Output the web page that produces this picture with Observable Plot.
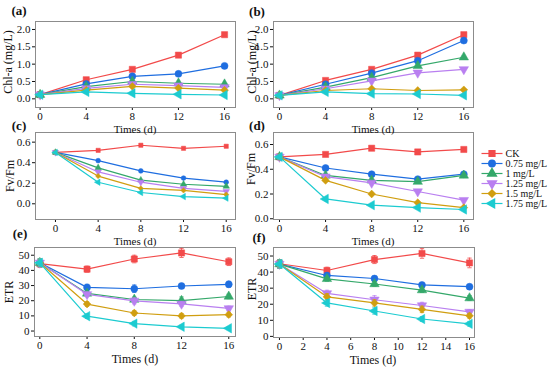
<!DOCTYPE html>
<html><head><meta charset="utf-8">
<script src="https://cdn.jsdelivr.net/npm/d3@7"></script>
<script src="https://cdn.jsdelivr.net/npm/@observablehq/plot@0.6"></script>
<style>
body{margin:0;background:#fff;}
#wrap{position:relative;width:550px;height:369px;font-family:"Liberation Serif","Times New Roman",serif;color:#111;overflow:hidden;background:#fff}
.t{position:absolute;white-space:nowrap;font-size:11px;line-height:1;font-family:"Liberation Serif","Times New Roman",serif}
.p{position:absolute}
svg text{font-family:"Liberation Serif","Times New Roman",serif}
</style></head><body><div id="wrap"></div>
<script>
const days = [0, 4, 8, 12, 16];
const series = ["CK", "0.75 mg/L", "1 mg/L", "1.25 mg/L", "1.5 mg/L", "1.75 mg/L"];
const colors = ["#f24a4a", "#1f6ee0", "#34a86a", "#b97ff0", "#d09e10", "#1ccbd0"];
const symbols = ["square", "circle", "triangle", "triangle", "diamond2", "triangle"];
const rotations = [0, 0, 0, 180, 0, -90];

// (a) Chl-a
const chlA_a = [
  [0.12, 0.55, 0.85, 1.26, 1.85],
  [0.12, 0.43, 0.65, 0.72, 0.95],
  [0.12, 0.35, 0.50, 0.45, 0.42],
  [0.12, 0.30, 0.42, 0.38, 0.33],
  [0.12, 0.25, 0.36, 0.31, 0.25],
  [0.12, 0.20, 0.16, 0.13, 0.11]
];
// (b) Chl-a
const chlA_b = [
  [0.10, 0.53, 0.85, 1.26, 1.85],
  [0.10, 0.42, 0.74, 1.10, 1.68],
  [0.10, 0.34, 0.61, 0.95, 1.20],
  [0.10, 0.29, 0.52, 0.75, 0.85],
  [0.10, 0.24, 0.29, 0.24, 0.26],
  [0.10, 0.20, 0.15, 0.14, 0.10]
];
// (c) Fv/Fm
const fvfm_c = [
  [0.50, 0.52, 0.57, 0.54, 0.56],
  [0.50, 0.42, 0.32, 0.25, 0.21],
  [0.50, 0.35, 0.23, 0.19, 0.17],
  [0.50, 0.31, 0.21, 0.15, 0.12],
  [0.50, 0.27, 0.15, 0.13, 0.09],
  [0.50, 0.21, 0.11, 0.07, 0.055]
];
// (d) Fv/Fm
const fvfm_d = [
  [0.50, 0.52, 0.57, 0.54, 0.56],
  [0.50, 0.41, 0.36, 0.32, 0.36],
  [0.50, 0.35, 0.31, 0.30, 0.35],
  [0.50, 0.34, 0.29, 0.22, 0.15],
  [0.50, 0.31, 0.20, 0.13, 0.09],
  [0.50, 0.16, 0.11, 0.09, 0.075]
];
// (e) ETR
const etr_e = [
  [44.5, 40.8, 47.5, 51.5, 45.7],
  [45, 28.8, 27.9, 29.7, 30.8],
  [45, 24.8, 20.8, 20.0, 22.8],
  [45, 24.2, 19.9, 17.9, 14.9],
  [45, 17.8, 11.9, 10.0, 10.8],
  [45, 9.8, 4.9, 2.8, 1.8]
];
const etrErr_e = [
  [2.5, 2, 2.5, 3, 2.5],
  [2.5, 2, 2.5, 1.5, 2],
  [2.5, 1.5, 1.5, 2.5, 1.5],
  [2.5, 1.5, 2, 1.5, 1.5],
  [2.5, 1.5, 1.5, 1.5, 1.5],
  [2.5, 1.5, 1.5, 1, 1]
];
// (f) ETR
const etr_f = [
  [45.2, 41.0, 47.8, 51.6, 45.7],
  [45, 37.9, 36.0, 32.0, 30.9],
  [45, 35.8, 32.6, 28.8, 23.8],
  [45, 26.7, 22.8, 19.2, 15.2],
  [45, 24.6, 20.8, 16.8, 12.8],
  [45, 20.8, 15.8, 10.8, 7.8]
];
const etrErr_f = [
  [2.5, 2, 2.5, 3, 3],
  [2.5, 1.5, 1.5, 1.5, 1.5],
  [2.5, 1.5, 1.5, 1.5, 1.5],
  [2.5, 2, 2.5, 2, 1.5],
  [2.5, 2, 2, 2, 1.5],
  [2.5, 2, 2, 1.5, 1.5]
];

const chlTicks = [0, 0.5, 1, 1.5, 2];
const fvTicks = [0, 0.2, 0.4, 0.6];
const etrTicks = [0, 10, 20, 30, 40, 50];
const dayTicks = [0, 4, 8, 12, 16];
const dayTicksF = [0, 2, 4, 6, 8, 10, 12, 14, 16];

const wrap = document.getElementById("wrap");
const FONT = "'Liberation Serif','Times New Roman',serif";

function text(str, x, y, opts = {}) {
  const d = document.createElement("div");
  d.className = "t";
  d.textContent = str;
  d.style.left = x + "px";
  d.style.top = y + "px";
  d.style.fontSize = (opts.size || 11) + "px";
  if (opts.bold) d.style.fontWeight = "bold";
  d.style.transform = "translate(-50%,-50%)" + (opts.rot ? " rotate(-90deg)" : "");
  wrap.appendChild(d);
}

function panel(cfg) {
  const ml = 36, mr = 6, mt = 20, mb = 24;
  const W = (cfg.fr - cfg.fl) + ml + mr, H = (cfg.fb - cfg.ft) + mt + mb;
  const marks = [Plot.frame({stroke: "#8c8c8c", strokeWidth: 1})];
  cfg.data.forEach((vals, si) => {
    const rows = vals.map((v, i) => ({x: days[i], y: v, e: cfg.err ? cfg.err[si][i] : 0}));
    marks.push(Plot.line(rows, {x: "x", y: "y", stroke: colors[si], strokeWidth: 1.2}));
    if (cfg.err) {
      marks.push(Plot.ruleX(rows, {x: "x", y1: d => d.y - d.e, y2: d => d.y + d.e, stroke: colors[si], strokeWidth: 1, strokeOpacity: 0.8}));
      marks.push(Plot.link(rows, {x1: d => d.x - 0.18, x2: d => d.x + 0.18, y1: d => d.y + d.e, y2: d => d.y + d.e, stroke: colors[si], strokeWidth: 1, strokeOpacity: 0.8}));
      marks.push(Plot.link(rows, {x1: d => d.x - 0.18, x2: d => d.x + 0.18, y1: d => d.y - d.e, y2: d => d.y - d.e, stroke: colors[si], strokeWidth: 1, strokeOpacity: 0.8}));
    }
    marks.push(Plot.dot(rows, {x: "x", y: "y", symbol: symbols[si], rotate: rotations[si], fill: colors[si], stroke: colors[si], strokeWidth: 0.5, r: cfg.r || 3.5}));
  });
  const svg = Plot.plot({
    width: W, height: H,
    marginLeft: ml, marginRight: mr, marginTop: mt, marginBottom: mb,
    style: {fontSize: "11px", fontFamily: FONT, color: "#111", background: "transparent", overflow: "visible"},
    x: {domain: cfg.xd, ticks: cfg.xt, tickSize: 3, tickPadding: 2, label: null, tickFormat: d3.format("d")},
    y: {domain: cfg.yd, ticks: cfg.yt, tickSize: 3, tickPadding: 2, label: null, tickFormat: cfg.yf},
    marks
  });
  svg.classList.add("p");
  svg.style.left = (cfg.fl - ml) + "px";
  svg.style.top = (cfg.ft - mt) + "px";
  wrap.appendChild(svg);
}

const f1 = d3.format(".1f"), f0 = d3.format("d");
panel({fl: 35, fr: 235, ft: 21, fb: 107, xd: [-0.4, 16.95], xt: dayTicks, yd: [-0.25, 2.23], yt: chlTicks, yf: f1, data: chlA_a});
panel({fl: 273, fr: 473, ft: 21, fb: 107, xd: [-0.52, 16.84], xt: dayTicks, yd: [-0.25, 2.23], yt: chlTicks, yf: f1, data: chlA_b});
panel({fl: 35, fr: 235, ft: 132, fb: 219, xd: [-1.87, 16.87], xt: dayTicks, yd: [-0.153, 0.694], yt: fvTicks, yf: f1, data: fvfm_c, r: 2.4});
panel({fl: 273, fr: 473, ft: 132, fb: 219, xd: [-0.52, 16.84], xt: dayTicks, yd: [-0.006, 0.697], yt: fvTicks, yf: f1, data: fvfm_d});
panel({fl: 34, fr: 235, ft: 247, fb: 336, xd: [-0.45, 16.57], xt: dayTicks, yd: [-3.6, 55.1], yt: etrTicks, yf: f0, data: etr_e, err: etrErr_e});
panel({fl: 273, fr: 474, ft: 247, fb: 337, xd: [-0.5, 16.42], xt: dayTicksF, yd: [-0.7, 55.3], yt: etrTicks, yf: f0, data: etr_f, err: etrErr_f});

// legend
const legRows = series.map((s, i) => ({s, i}));
const leg = Plot.plot({
  width: 70, height: 78, margin: 0,
  style: {fontSize: "10px", fontFamily: FONT, color: "#111", background: "transparent", overflow: "visible"},
  x: {domain: [0, 1], range: [3, 24], axis: null},
  y: {type: "point", domain: series, range: [7.3, 68.8], axis: null},
  marks: [
    ...series.map((s, i) => Plot.link([s], {x1: () => 0, x2: () => 1, y1: d => d, y2: d => d, stroke: colors[i], strokeWidth: 1.2})),
    ...series.map((s, i) => Plot.dot([s], {x: () => 0.5, y: d => d, symbol: symbols[i], rotate: rotations[i], fill: colors[i], stroke: colors[i], r: 3.2})),
    Plot.text(legRows, {x: () => 1, y: "s", text: "s", textAnchor: "start", dx: 3, fill: "#111"})
  ]
});
leg.classList.add("p");
leg.style.left = "478px";
leg.style.top = "140px";
wrap.appendChild(leg);

// titles and axis labels
text("(a)", 19, 10, {bold: true, size: 13});
text("(b)", 257, 11, {bold: true, size: 13});
text("(c)", 19, 125, {bold: true, size: 13});
text("(d)", 257, 125, {bold: true, size: 13});
text("(e)", 20, 233, {bold: true, size: 13});
text("(f)", 259, 237, {bold: true, size: 13});

text("Chl-a (mg/L)", 8, 62, {rot: true, size: 12});
text("Chl-a (mg/L)", 252, 62, {rot: true, size: 12});
text("Fv/Fm", 10, 176, {rot: true, size: 12});
text("Fv/Fm", 251, 169, {rot: true, size: 12});
text("ETR", 9, 292, {rot: true, size: 12});
text("ETR", 252, 289, {rot: true, size: 12});

text("Times (d)", 135, 129, {size: 11});
text("Times (d)", 373, 129, {size: 11});
text("Times (d)", 135, 241, {size: 11});
text("Times (d)", 373, 241, {size: 11});
text("Times (d)", 135, 359, {size: 12});
text("Times (d)", 373, 360, {size: 12});
</script></body></html>
